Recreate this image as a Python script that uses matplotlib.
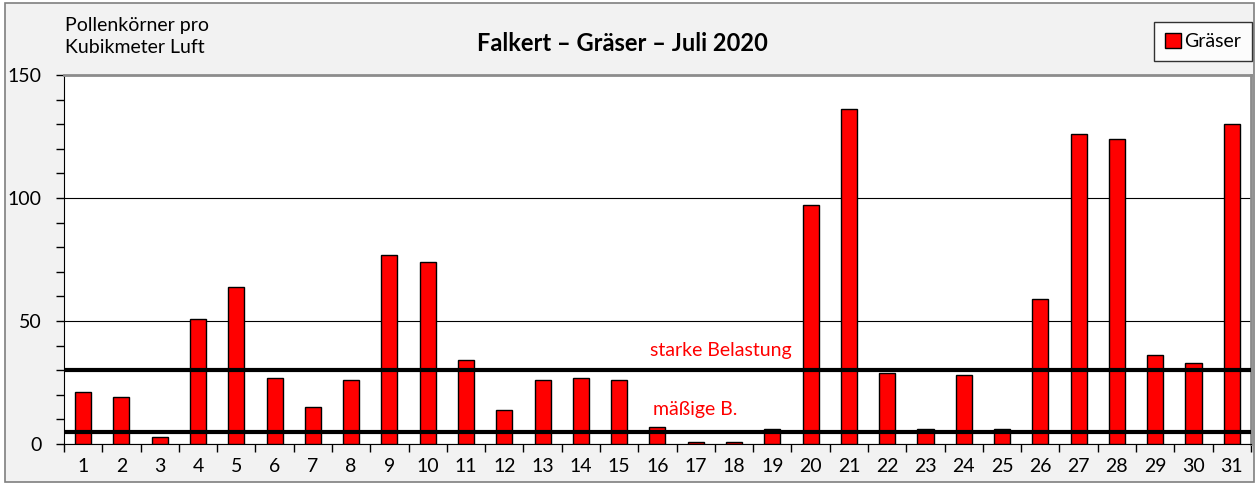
import matplotlib.pyplot as plt
from matplotlib.patches import Rectangle
import numpy as np

plt.rcParams['font.family'] = ['Lato', 'DejaVu Sans']

## Data
tage = list(range(1, 32))
graeser = [21, 19, 3, 51, 64, 27, 15, 26, 77, 74, 34, 14, 26, 27, 26, 7, 1, 1,
           6, 97, 136, 29, 6, 28, 6, 59, 126, 124, 36, 33, 130]
starke_belastung = 30
maessige_belastung = 5

## Figure
fig = plt.figure(figsize=(12.59, 4.84), dpi=100, facecolor='white')
fig.patches.append(Rectangle((0.004, 0.004), 0.992, 0.990, transform=fig.transFigure,
                             facecolor='#f2f2f2', edgecolor='#7f7f7f', linewidth=1.2, zorder=-10))

ax = fig.add_axes([0.0508, 0.0826, 0.9428, 0.7624])
ax.set_facecolor('white')

x = np.arange(len(tage))
ax.bar(x, graeser, width=0.42, color='#ff0000', edgecolor='black', linewidth=1, zorder=3, label='Gräser')

ax.axhline(starke_belastung, color='black', linewidth=3, zorder=4)
ax.axhline(maessige_belastung, color='black', linewidth=3, zorder=4)
ax.text(14.8, 38, 'starke Belastung', color='#ff0000', fontsize=14, ha='left', va='center')
ax.text(14.88, 14, 'mäßige B.', color='#ff0000', fontsize=14, ha='left', va='center')

## Axes
ax.set_xlim(-0.5, len(tage) - 0.5)
ax.set_ylim(0, 150)
ax.set_yticks([0, 50, 100, 150])
ax.set_yticks(np.arange(0, 151, 10), minor=True)
ax.yaxis.grid(True, which='major', color='black', linewidth=0.8, zorder=0)
ax.set_axisbelow(True)
ax.tick_params(axis='y', which='both', direction='out', length=6, width=1, labelsize=14, pad=10)

ax.set_xticks(x)
ax.set_xticklabels([str(t) for t in tage])
ax.set_xticks(np.arange(-0.5, len(tage), 1), minor=True)
ax.tick_params(axis='x', which='major', length=0, labelsize=14, pad=10)
ax.tick_params(axis='x', which='minor', direction='out', length=6, width=1)

ax.spines['left'].set_color('black')
ax.spines['bottom'].set_color('black')
ax.spines['top'].set_color('#8c8c8c')
ax.spines['right'].set_color('#8c8c8c')
ax.spines['top'].set_linewidth(2)
ax.spines['right'].set_linewidth(2)

## Texts
fig.text(0.494, 0.91, 'Falkert – Gräser – Juli 2020', fontsize=17, fontweight='bold', ha='center', va='center')
fig.text(0.052, 0.965, 'Pollenkörner pro\nKubikmeter Luft', fontsize=14, ha='left', va='top', linespacing=1.35)

leg = ax.legend(loc='upper right', bbox_to_anchor=(1.0005, 1.144), frameon=True, fancybox=False,
                fontsize=14, handlelength=0.85, handleheight=0.85, handletextpad=0.15, borderpad=0.55,
                borderaxespad=0)
leg.get_frame().set_edgecolor('black')
leg.get_frame().set_linewidth(1)

fig.savefig('out.png', dpi=100, facecolor=fig.get_facecolor())
